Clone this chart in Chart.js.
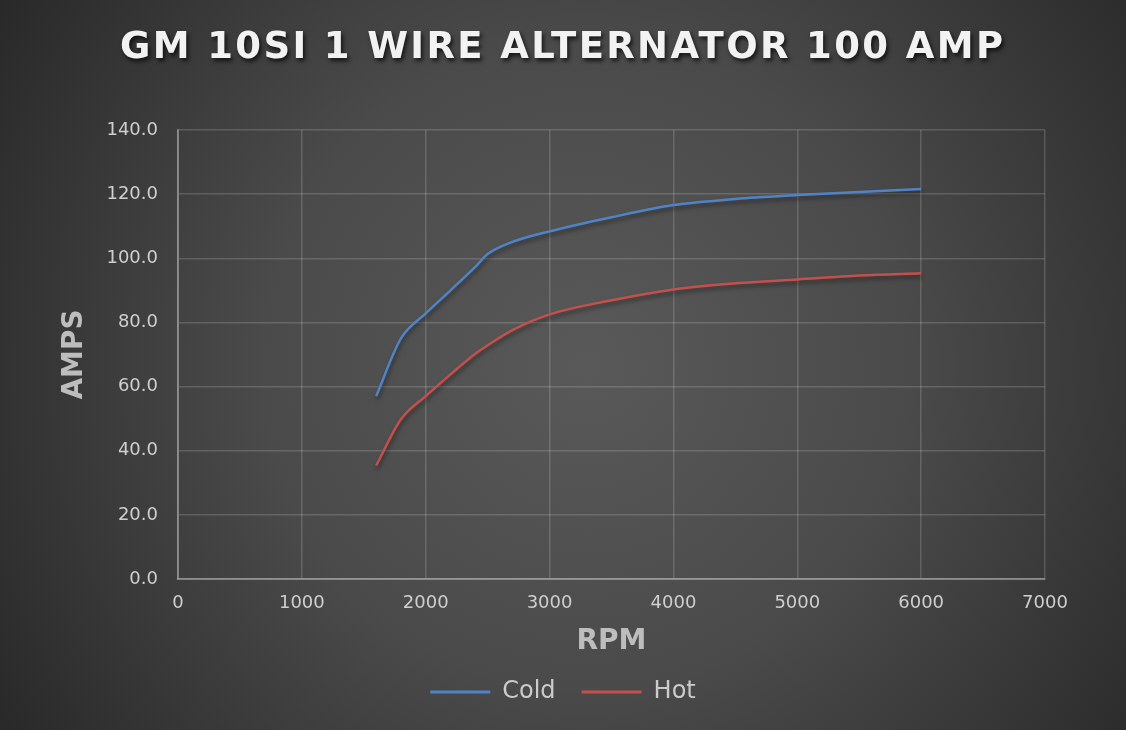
<!DOCTYPE html>
<html>
<head>
<meta charset="utf-8">
<script src="https://cdn.jsdelivr.net/npm/chart.js@4.4.1/dist/chart.umd.min.js"></script>
<style>
  html, body { margin: 0; padding: 0; background: #2b2b2b; }
  #wrap { width: 1126px; height: 730px; }
</style>
</head>
<body>
<div id="wrap"><canvas id="c" width="1126" height="730"></canvas></div>
<script>
const chartTitle = 'GM 10SI 1 WIRE ALTERNATOR 100 AMP';
const xTitle = 'RPM';
const yTitle = 'AMPS';
const rpm = [1600, 1800, 2000, 2200, 2400, 2500, 2700, 3000, 3500, 4000, 4500, 5000, 5500, 6000];
const coldAmps = [57, 75, 82.8, 90, 97.3, 101.3, 105.1, 108.4, 112.8, 116.6, 118.5, 119.7, 120.7, 121.6];
const hotAmps = [35.4, 49.8, 57, 63.8, 70.2, 72.9, 77.6, 82.5, 86.9, 90.3, 92.2, 93.4, 94.6, 95.3];
const seriesNames = ['Cold', 'Hot'];

const bgPlugin = {
  id: 'bg',
  beforeDraw(chart) {
    const {ctx, width, height} = chart;
    ctx.save();
    const g = ctx.createRadialGradient(width * 0.52, height * 0.5, 0, width * 0.52, height * 0.5, 720);
    g.addColorStop(0, '#595959');
    g.addColorStop(0.45, '#4a4a4a');
    g.addColorStop(1, '#262626');
    ctx.fillStyle = g;
    ctx.fillRect(0, 0, width, height);
    ctx.restore();
  },
  beforeDatasetsDraw(chart) {
    const ctx = chart.ctx;
    ctx.save();
    ctx.shadowColor = 'rgba(0,0,0,0.45)';
    ctx.shadowBlur = 4;
    ctx.shadowOffsetX = 1;
    ctx.shadowOffsetY = 3;
  },
  afterDatasetsDraw(chart) {
    chart.ctx.restore();
  },
  afterDraw(chart) {
    const ctx = chart.ctx;
    ctx.save();
    ctx.font = 'bold 37px "DejaVu Sans"';
    ctx.textAlign = 'left';
    ctx.textBaseline = 'middle';
    const target = 883;
    const n = chartTitle.length;
    const w0 = ctx.measureText(chartTitle).width;
    const sp = (target - w0) / (n - 1);
    ctx.letterSpacing = sp + 'px';
    const startX = 120;
    ctx.shadowColor = 'rgba(0,0,0,0.7)';
    ctx.shadowBlur = 4;
    ctx.shadowOffsetX = 2;
    ctx.shadowOffsetY = 3;
    ctx.fillStyle = '#f2f2f2';
    ctx.fillText(chartTitle, startX, 48);
    ctx.restore();
  }
};

const gridColor = 'rgba(255,255,255,0.16)';
const tickColor = '#cfcfcf';
const titleColor = '#bdbdbd';

new Chart(document.getElementById('c'), {
  type: 'line',
  data: {
    datasets: [
      { label: seriesNames[0], data: rpm.map((x, i) => ({x, y: coldAmps[i]})),
        borderColor: '#4f83c6', backgroundColor: '#4f83c6', borderWidth: 2.5,
        pointRadius: 0, cubicInterpolationMode: 'monotone', fill: false },
      { label: seriesNames[1], data: rpm.map((x, i) => ({x, y: hotAmps[i]})),
        borderColor: '#c4504c', backgroundColor: '#c4504c', borderWidth: 2.5,
        pointRadius: 0, cubicInterpolationMode: 'monotone', fill: false }
    ]
  },
  options: {
    responsive: false,
    animation: false,
    devicePixelRatio: 1,
    layout: { padding: { top: 130, right: 0, left: 0, bottom: 16 } },
    plugins: {
      legend: {
        position: 'bottom',
        labels: {
          color: '#cbcbcb',
          font: { family: '"DejaVu Sans"', size: 24 },
          boxWidth: 60, boxHeight: 3, padding: 26,
          generateLabels(chart) {
            return chart.data.datasets.map((ds, i) => ({
              text: ds.label, fillStyle: ds.borderColor, strokeStyle: ds.borderColor,
              lineWidth: 0, fontColor: '#cbcbcb', datasetIndex: i, hidden: false
            }));
          }
        }
      },
      title: { display: false },
      tooltip: { enabled: false }
    },
    scales: {
      x: {
        type: 'linear', min: 0, max: 7000,
        afterFit(s) { s.height = 75; },
        ticks: { stepSize: 1000, color: tickColor, padding: 14,
                 font: { family: '"DejaVu Sans"', size: 18 }, maxRotation: 0,
                 callback: v => String(v) },
        grid: { color: gridColor, lineWidth: 1.5, drawTicks: false },
        border: { color: 'rgba(255,255,255,0.3)', width: 2 },
        title: { display: true, text: xTitle, color: titleColor,
                 font: { family: '"DejaVu Sans"', size: 28, weight: 'bold' },
                 padding: { top: 0, bottom: -5 } }
      },
      y: {
        min: 0, max: 140,
        afterFit(s) { s.width = 178; },
        ticks: { stepSize: 20, color: tickColor, padding: 20,
                 font: { family: '"DejaVu Sans"', size: 18 },
                 callback: v => v.toFixed(1) },
        grid: { color: gridColor, lineWidth: 1.5, drawTicks: false },
        border: { color: 'rgba(255,255,255,0.3)', width: 2 },
        title: { display: true, text: yTitle, color: titleColor,
                 font: { family: '"DejaVu Sans"', size: 28, weight: 'bold' },
                 padding: { top: 58, bottom: 0 } }
      },
      yR: {
        position: 'right',
        display: true,
        afterFit(s) { s.width = 81; },
        ticks: { display: false },
        grid: { display: false, drawOnChartArea: false },
        border: { display: false }
      }
    }
  },
  plugins: [bgPlugin]
});
</script>
</body>
</html>
